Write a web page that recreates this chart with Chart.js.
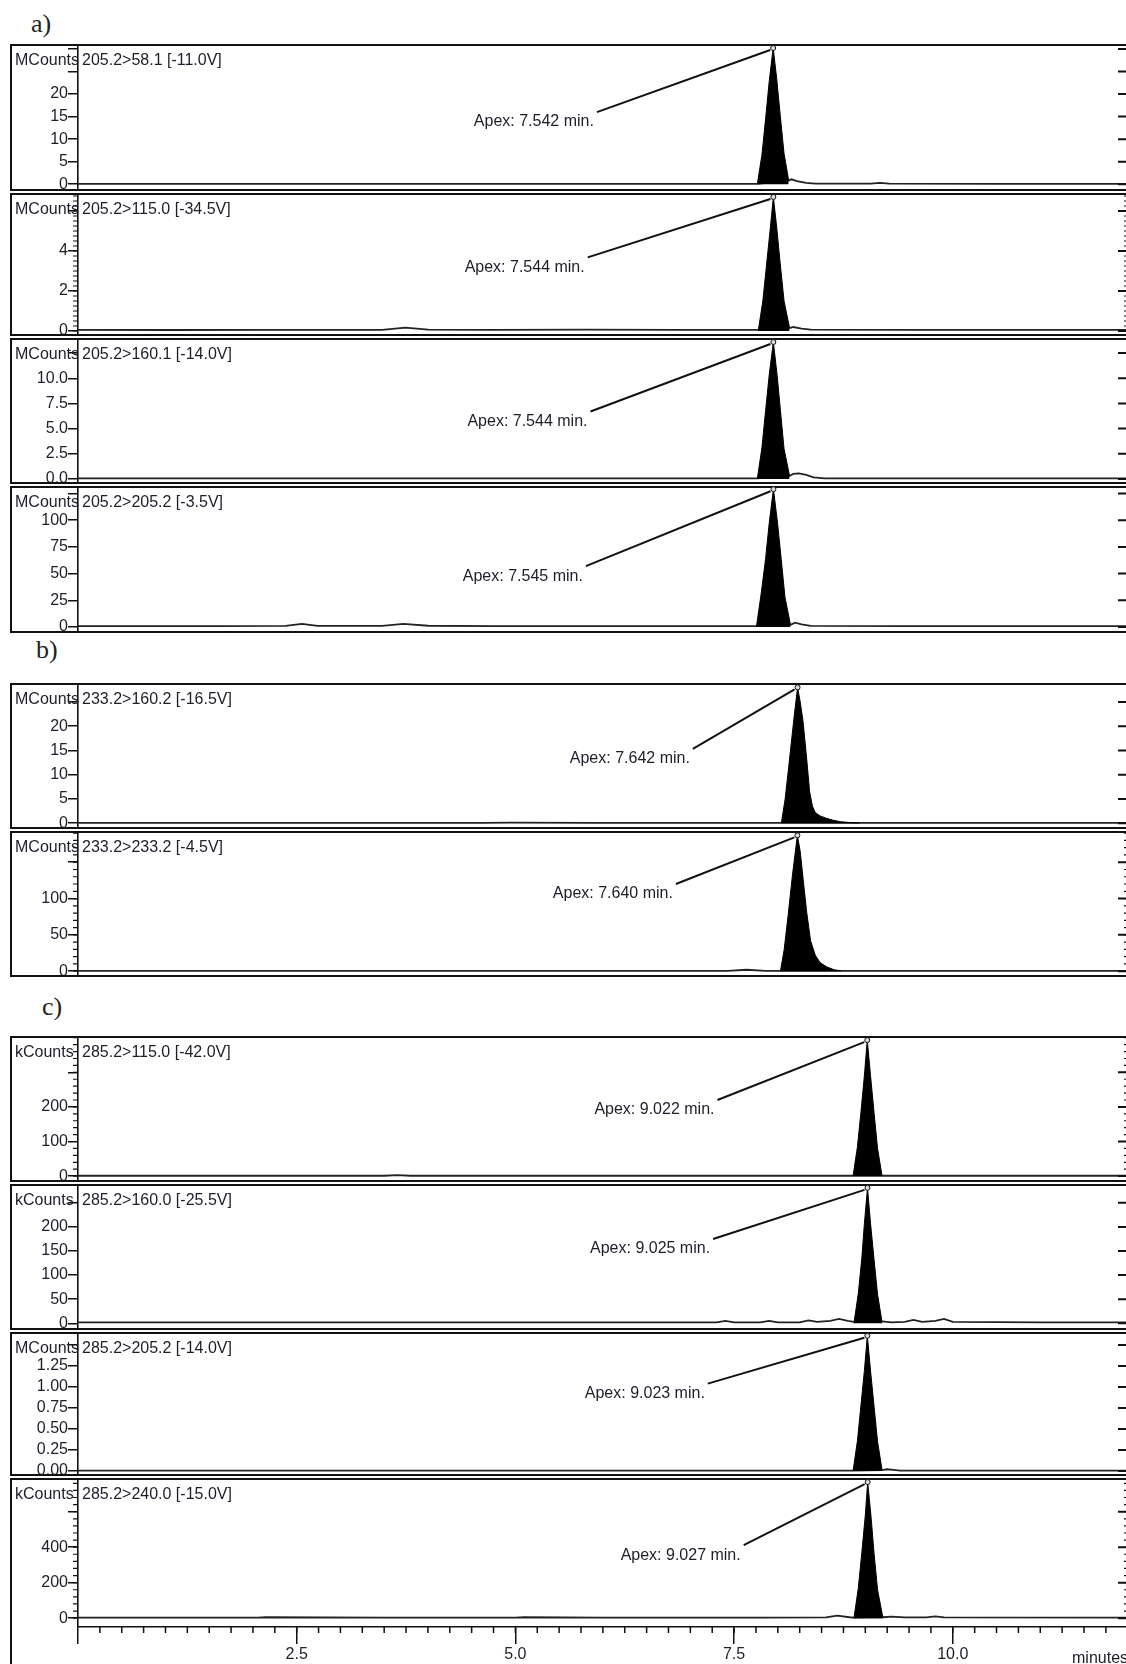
<!DOCTYPE html>
<html>
<head>
<meta charset="utf-8">
<script src="https://cdn.jsdelivr.net/npm/chart.js@4.4.1/dist/chart.umd.min.js"></script>
<style>
  html, body { margin: 0; padding: 0; background: #fff; overflow: hidden; }
  body { width: 1126px; height: 1664px; position: relative; }
  .grp { position: absolute; font: 26px "Liberation Serif", "Times New Roman", serif; color: #222; line-height: 1; }
  canvas { position: absolute; left: 10px; }
</style>
</head>
<body>
<div class="grp" style="left:31px;top:11px">a)</div>
<div class="grp" style="left:36px;top:637px">b)</div>
<div class="grp" style="left:42px;top:994px">c)</div>

<script>
// ========================================
// MRM chromatograms (a, b, c)
// ========================================

const units = ['MCounts', 'MCounts', 'MCounts', 'MCounts', 'MCounts', 'MCounts', 'kCounts', 'kCounts', 'MCounts', 'kCounts'];
const channels = ['205.2>58.1 [-11.0V]', '205.2>115.0 [-34.5V]', '205.2>160.1 [-14.0V]', '205.2>205.2 [-3.5V]',
  '233.2>160.2 [-16.5V]', '233.2>233.2 [-4.5V]',
  '285.2>115.0 [-42.0V]', '285.2>160.0 [-25.5V]', '285.2>205.2 [-14.0V]', '285.2>240.0 [-15.0V]'];
const apexTimes = ['7.542', '7.544', '7.544', '7.545', '7.642', '7.640', '9.022', '9.025', '9.023', '9.027'];

// y ticks (major) and the ones that carry a label
const yTicks = [
  [0, 5, 10, 15, 20, 25, 30], [0, 2, 4, 6], [0, 2.5, 5, 7.5, 10, 12.5], [0, 25, 50, 75, 100, 125],
  [0, 5, 10, 15, 20, 25], [0, 50, 100, 150],
  [0, 100, 200, 300], [0, 50, 100, 150, 200, 250], [0, 0.25, 0.5, 0.75, 1, 1.25, 1.5], [0, 200, 400, 600]
];
const yLabels = [
  [0, 5, 10, 15, 20], [0, 2, 4], [0, 2.5, 5, 7.5, 10], [0, 25, 50, 75, 100],
  [0, 5, 10, 15, 20], [0, 50, 100],
  [0, 100, 200], [0, 50, 100, 150, 200], [0, 0.25, 0.5, 0.75, 1, 1.25], [0, 200, 400]
];
const yDecimals = [0, 0, 1, 0, 0, 0, 0, 0, 2, 0];
const minorStep = [0, 0.25, 0, 0, 0, 10, 20, 0, 0, 40];
const yMin = [-1.5, -0.25, -0.5, -5.6, -1.2, -8, -17, -14, -0.06, -50];
const yMax = [31.1, 6.9, 14.0, 132, 28.9, 193, 405, 289, 1.655, 790];

// time axis (minutes)
const xMajor = [0, 2.5, 5, 7.5, 10];
const xLabels = [2.5, 5, 7.5, 10];
const xMaxGroup = { a: 11.37, b: 11.13, c: 11.98 };
const groups = ['a', 'a', 'a', 'a', 'b', 'b', 'c', 'c', 'c', 'c'];

// ---- traces: baseline and peak, time (min) / intensity ----
const a1BaseT = [0, 2, 4, 6, 7.37, 7.71, 7.74, 7.80, 7.90, 8.0, 8.6, 8.7, 8.8, 10, 11.37];
const a1BaseV = [0.1, 0.1, 0.1, 0.1, 0.1, 0.8, 1.1, 0.7, 0.3, 0.15, 0.15, 0.3, 0.15, 0.1, 0.1];
const a1PeakT = [7.37, 7.42, 7.46, 7.50, 7.542, 7.58, 7.62, 7.66, 7.71];
const a1PeakV = [0, 6.5, 14.5, 23, 30.2, 23.5, 15, 6.8, 0.9];

const a2BaseT = [0, 1.0, 2.0, 3.3, 3.55, 3.8, 4.5, 5.5, 6.5, 7.38, 7.72, 7.76, 7.85, 7.95, 9.0, 10.0, 11.37];
const a2BaseV = [0.06, 0.05, 0.06, 0.06, 0.17, 0.07, 0.06, 0.07, 0.06, 0.06, 0.15, 0.2, 0.12, 0.07, 0.06, 0.06, 0.06];
const a2PeakT = [7.38, 7.43, 7.47, 7.51, 7.544, 7.58, 7.62, 7.66, 7.72];
const a2PeakV = [0, 1.5, 3.3, 5.1, 6.7, 5.2, 3.3, 1.5, 0.15];

const a3BaseT = [0, 2, 4, 6, 7.37, 7.72, 7.76, 7.82, 7.90, 7.98, 8.1, 9, 10, 11.37];
const a3BaseV = [0.05, 0.05, 0.05, 0.05, 0.05, 0.3, 0.5, 0.55, 0.4, 0.15, 0.06, 0.05, 0.05, 0.05];
const a3PeakT = [7.37, 7.42, 7.46, 7.50, 7.544, 7.585, 7.62, 7.66, 7.72];
const a3PeakV = [0, 3.1, 6.8, 10.4, 13.6, 10.3, 6.9, 3.0, 0.3];

const a4BaseT = [0, 1.5, 2.25, 2.43, 2.6, 3.3, 3.53, 3.8, 4.5, 6, 7.36, 7.73, 7.78, 7.85, 7.95, 9, 10.5, 11.37];
const a4BaseV = [0.8, 0.8, 1, 3, 1, 1, 3, 1.2, 0.8, 0.8, 0.8, 2, 4, 2.5, 1, 0.8, 0.8, 0.8];
const a4PeakT = [7.36, 7.41, 7.46, 7.50, 7.545, 7.59, 7.63, 7.67, 7.73];
const a4PeakV = [0, 30, 64, 98, 129, 97, 63, 28, 2];

const b1BaseT = [0, 4.3, 4.6, 5.5, 7.47, 8.30, 9, 10, 11.13];
const b1BaseV = [0.05, 0.05, 0.12, 0.05, 0.05, 0.05, 0.06, 0.05, 0.05];
const b1PeakT = [7.47, 7.51, 7.55, 7.60, 7.642, 7.67, 7.70, 7.74, 7.77, 7.80, 7.83, 7.88, 7.95, 8.02, 8.10, 8.20, 8.30];
const b1PeakV = [0, 5, 12, 21, 28, 25, 21, 13, 6.5, 3.5, 2.2, 1.5, 1.0, 0.6, 0.3, 0.12, 0.05];

const b2BaseT = [0, 2, 4, 6, 6.9, 7.1, 7.3, 7.46, 8.10, 9, 11.13];
const b2BaseV = [0.5, 0.5, 0.5, 0.5, 0.5, 2, 0.5, 0.5, 0.5, 0.5, 0.5];
const b2PeakT = [7.46, 7.50, 7.54, 7.59, 7.640, 7.67, 7.70, 7.74, 7.78, 7.83, 7.88, 7.95, 8.03, 8.10];
const b2PeakV = [0, 30, 75, 135, 187, 165, 128, 80, 42, 22, 12, 6, 2, 0.5];

const c1BaseT = [0, 2, 3.5, 3.65, 3.8, 5, 7, 8.86, 9.19, 10, 11.98];
const c1BaseV = [1, 1, 1, 3, 1, 1, 1, 1, 1, 1, 1];
const c1PeakT = [8.86, 8.91, 8.95, 8.99, 9.022, 9.06, 9.10, 9.14, 9.19];
const c1PeakV = [0, 85, 185, 292, 393, 290, 183, 80, 3];

const c2BaseT = [0, 3, 5, 7.3, 7.4, 7.5, 7.8, 7.9, 8.0, 8.25, 8.35, 8.45, 8.6, 8.7, 8.8, 8.87, 9.19, 9.3, 9.45, 9.55, 9.65, 9.8, 9.9, 10.0, 11, 11.98];
const c2BaseV = [2, 2, 2, 2, 5, 2, 2, 5, 2, 2, 6, 3, 5, 9, 5, 3, 4, 2, 3, 7, 3, 5, 9, 3, 2, 2];
const c2PeakT = [8.87, 8.92, 8.96, 8.99, 9.025, 9.06, 9.10, 9.14, 9.19];
const c2PeakV = [0, 62, 135, 208, 281, 207, 132, 60, 4];

const c3BaseT = [0, 5, 8.86, 9.19, 9.25, 9.32, 9.4, 11.98];
const c3BaseV = [0.004, 0.004, 0.004, 0.01, 0.02, 0.012, 0.004, 0.004];
const c3PeakT = [8.86, 8.91, 8.95, 8.99, 9.023, 9.06, 9.10, 9.14, 9.19];
const c3PeakV = [0, 0.36, 0.78, 1.2, 1.61, 1.19, 0.77, 0.35, 0.02];

const c4BaseT = [0, 2.05, 2.15, 3.5, 5.0, 5.1, 6.0, 6.3, 7.85, 8.55, 8.68, 8.82, 8.87, 9.20, 9.3, 9.45, 9.7, 9.8, 9.9, 11.98];
const c4BaseV = [3, 3, 5, 3, 3, 5, 3, 3, 3, 4, 14, 5, 3, 5, 8, 4, 4, 10, 4, 3];
const c4PeakT = [8.87, 8.92, 8.96, 9.00, 9.027, 9.065, 9.10, 9.14, 9.20];
const c4PeakV = [0, 170, 370, 580, 767, 575, 365, 160, 5];

const baseT = [a1BaseT, a2BaseT, a3BaseT, a4BaseT, b1BaseT, b2BaseT, c1BaseT, c2BaseT, c3BaseT, c4BaseT];
const baseV = [a1BaseV, a2BaseV, a3BaseV, a4BaseV, b1BaseV, b2BaseV, c1BaseV, c2BaseV, c3BaseV, c4BaseV];
const peakT = [a1PeakT, a2PeakT, a3PeakT, a4PeakT, b1PeakT, b2PeakT, c1PeakT, c2PeakT, c3PeakT, c4PeakT];
const peakV = [a1PeakV, a2PeakV, a3PeakV, a4PeakV, b1PeakV, b2PeakV, c1PeakV, c2PeakV, c3PeakV, c4PeakV];

// ---- layout: panel frames (page px) and where each apex leader starts (data units) ----
const panelTop = [44, 193, 338, 486, 683, 831, 1036, 1184, 1332, 1478];
const panelBottom = [191, 336, 484, 633, 829, 977, 1182, 1330, 1476, 1664];
const leaderT = [5.63, 5.53, 5.56, 5.51, 6.53, 6.35, 7.31, 7.26, 7.20, 7.61];
const leaderV = [16.0, 3.68, 6.7, 57, 15.3, 120, 220, 175, 1.04, 411];

const family = '"Liberation Sans", Arial, Helvetica, sans-serif';
const font = '16px ' + family;
const ink = '#1d1d2b';

function pts(T, V) {
  return T.map((t, k) => ({ x: t, y: V[k] }));
}

// frame, extra ticks, header and apex leader
const chromPlugin = {
  id: 'chrom',
  afterDraw(chart, args, opts) {
    const i = opts.index;
    const last = i === units.length - 1;
    const { ctx, chartArea: ca } = chart;
    const xs = chart.scales.x, ys = chart.scales.y;
    ctx.save();
    ctx.strokeStyle = '#111';

    // outer frame
    ctx.lineWidth = 2;
    ctx.beginPath();
    ctx.moveTo(chart.width + 4, 1);
    ctx.lineTo(1, 1);
    if (last) {
      ctx.lineTo(1, chart.height + 4);
    } else {
      ctx.lineTo(1, chart.height - 1);
      ctx.lineTo(chart.width + 4, chart.height - 1);
    }
    ctx.stroke();

    // minor y ticks (left and right)
    const step = minorStep[i];
    if (step) {
      ctx.lineWidth = 1.2;
      ctx.beginPath();
      for (let v = 0; v <= yMax[i]; v += step) {
        const py = ys.getPixelForValue(v);
        ctx.moveTo(ca.left - 5, py); ctx.lineTo(ca.left, py);
        ctx.moveTo(ca.right - 2, py); ctx.lineTo(ca.right, py);
      }
      ctx.stroke();
    }

    // major ticks on the right edge
    ctx.lineWidth = 2;
    ctx.beginPath();
    yTicks[i].forEach(v => {
      const py = ys.getPixelForValue(v);
      ctx.moveTo(ca.right - 8, py); ctx.lineTo(ca.right, py);
    });
    ctx.stroke();

    // minor time ticks on the bottom axis
    if (last) {
      ctx.lineWidth = 1.5;
      ctx.beginPath();
      for (let t = 0.25; t <= xs.max; t += 0.25) {
        const px = xs.getPixelForValue(t);
        ctx.moveTo(px, ca.bottom); ctx.lineTo(px, ca.bottom + 6);
      }
      ctx.stroke();
    }

    // header
    ctx.fillStyle = ink;
    ctx.font = font;
    ctx.textBaseline = 'middle';
    ctx.textAlign = 'left';
    ctx.fillText(units[i], 5, 17);
    ctx.fillText(channels[i], 72, 17);
    if (last) ctx.fillText('minutes', 1062, chart.height - 5);

    // apex leader
    const pv = peakV[i];
    const k = pv.indexOf(Math.max(...pv));
    const ax = xs.getPixelForValue(peakT[i][k]);
    const ay = ys.getPixelForValue(pv[k]);
    const lx = xs.getPixelForValue(leaderT[i]);
    const ly = ys.getPixelForValue(leaderV[i]);
    ctx.lineWidth = 2;
    ctx.beginPath();
    ctx.moveTo(lx, ly);
    ctx.lineTo(ax - 3, ay + 2);
    ctx.stroke();
    ctx.lineWidth = 1;
    ctx.beginPath();
    ctx.arc(ax, ay, 2.5, 0, 2 * Math.PI);
    ctx.fillStyle = '#ddd';
    ctx.fill();
    ctx.stroke();
    ctx.fillStyle = ink;
    ctx.textAlign = 'right';
    ctx.fillText('Apex: ' + apexTimes[i] + ' min.', lx - 3, ly + 10);
    ctx.restore();
  }
};

function makePanel(i) {
  const last = i === units.length - 1;
  const canvas = document.createElement('canvas');
  const h = panelBottom[i] - panelTop[i];
  canvas.width = 1116;
  canvas.height = h;
  canvas.style.top = panelTop[i] + 'px';
  canvas.style.width = '1116px';
  canvas.style.height = h + 'px';
  document.body.appendChild(canvas);

  new Chart(canvas, {
    type: 'line',
    data: {
      datasets: [
        { data: pts(peakT[i], peakV[i]), fill: 'origin', backgroundColor: '#000', borderColor: '#000', borderWidth: 1, pointRadius: 0, tension: 0 },
        { data: pts(baseT[i], baseV[i]), fill: false, borderColor: '#222', borderWidth: 1.8, pointRadius: 0, tension: 0 }
      ]
    },
    options: {
      animation: false,
      responsive: false,
      maintainAspectRatio: false,
      devicePixelRatio: 1,
      layout: { padding: 0 },
      plugins: { legend: { display: false }, tooltip: { enabled: false }, chrom: { index: i } },
      scales: {
        x: {
          type: 'linear', min: 0, max: xMaxGroup[groups[i]], display: last,
          afterBuildTicks: s => { s.ticks = xMajor.map(v => ({ value: v })); },
          afterFit: s => { s.height = last ? 37 : 0; s.paddingLeft = 0; s.paddingRight = 0; },
          ticks: {
            callback: v => xLabels.includes(v) ? v.toFixed(1) : '',
            font: { family, size: 16 }, color: ink, padding: 1, maxRotation: 0, minRotation: 0, autoSkip: false
          },
          grid: { drawOnChartArea: false, tickLength: 17, color: '#111', lineWidth: 1.5 },
          border: { color: '#111', width: 1.6 }
        },
        y: {
          min: yMin[i], max: yMax[i],
          afterBuildTicks: s => { s.ticks = yTicks[i].map(v => ({ value: v })); },
          afterFit: s => { s.width = 68; s.paddingTop = 0; s.paddingBottom = 0; },
          ticks: {
            callback: v => yLabels[i].includes(v) ? v.toFixed(yDecimals[i]) : '',
            font: { family, size: 16 }, color: ink, padding: 0, autoSkip: false
          },
          grid: { drawOnChartArea: false, tickLength: 10, color: '#111', lineWidth: 1.5 },
          border: { color: '#111', width: 1.6 }
        }
      }
    },
    plugins: [chromPlugin]
  });
}

document.addEventListener('DOMContentLoaded', () => {
  units.forEach((u, i) => makePanel(i));
});
</script>
</body>
</html>
